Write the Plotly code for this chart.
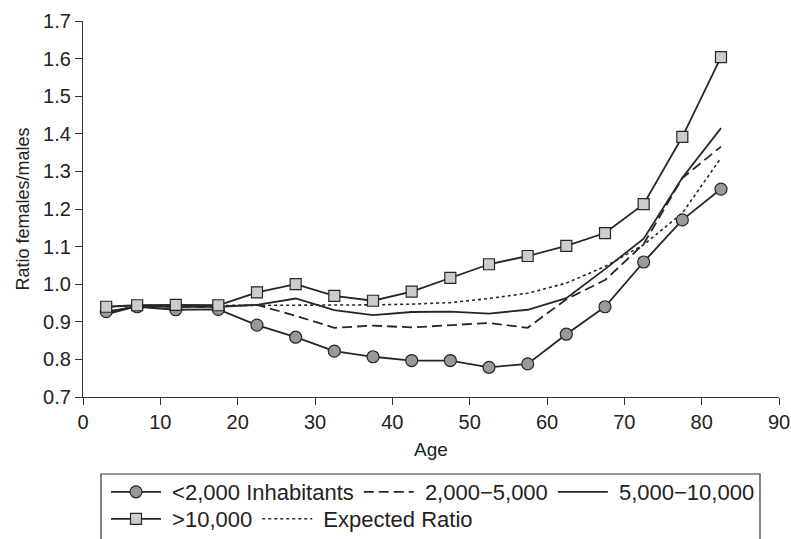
import plotly.graph_objects as go

ages = [3, 7, 12, 17.5, 22.5, 27.5, 32.5, 37.5, 42.5, 47.5, 52.5, 57.5, 62.5, 67.5, 72.5, 77.5, 82.5]

lt2000 = [0.927, 0.940, 0.932, 0.933, 0.891, 0.859, 0.822, 0.807, 0.797, 0.797, 0.779, 0.788, 0.867, 0.940, 1.059, 1.171, 1.253]
r2000_5000 = [0.925, 0.942, 0.940, 0.940, 0.945, 0.916, 0.884, 0.890, 0.885, 0.892, 0.897, 0.884, 0.960, 1.011, 1.107, 1.282, 1.366]
r5000_10000 = [0.920, 0.942, 0.940, 0.940, 0.945, 0.962, 0.931, 0.918, 0.926, 0.927, 0.922, 0.932, 0.963, 1.040, 1.121, 1.283, 1.415]
gt10000 = [0.940, 0.944, 0.945, 0.944, 0.978, 1.000, 0.969, 0.956, 0.980, 1.017, 1.053, 1.075, 1.102, 1.136, 1.213, 1.392, 1.604]
expected = [0.940, 0.943, 0.943, 0.943, 0.943, 0.943, 0.943, 0.945, 0.947, 0.951, 0.962, 0.976, 1.003, 1.047, 1.105, 1.189, 1.336]

series_names = ["<2,000 Inhabitants", "2,000\u22125,000", "5,000\u221210,000", ">10,000", "Expected Ratio"]

x_ticks = [0, 10, 20, 30, 40, 50, 60, 70, 80, 90]
y_ticks = [0.7, 0.8, 0.9, 1.0, 1.1, 1.2, 1.3, 1.4, 1.5, 1.6, 1.7]

W, H = 791, 539
ML, MR, MT, MB = 83, 12, 21, 142
PW, PH = W - ML - MR, H - MT - MB


def px_x(px):
    return (px - ML) / PW


def px_y(py):
    return (H - MB - py) / PH


LINE = "#262626"
FONT = "Liberation Sans, Arial, sans-serif"
NB = "\u00a0"

fig = go.Figure()
fig.add_trace(go.Scatter(
    x=ages, y=expected, name=NB + series_names[4], mode="lines", legend="legend2", legendrank=2,
    line=dict(color=LINE, width=1.6, dash="dot")))
fig.add_trace(go.Scatter(
    x=ages, y=r2000_5000, name=NB + series_names[1], mode="lines", legend="legend", legendrank=2,
    line=dict(color=LINE, width=1.8, dash="10px,5px")))
fig.add_trace(go.Scatter(
    x=ages, y=r5000_10000, name=NB + series_names[2], mode="lines", legend="legend", legendrank=3,
    line=dict(color=LINE, width=1.8)))
fig.add_trace(go.Scatter(
    x=ages, y=lt2000, name=NB + series_names[0], mode="lines+markers", legend="legend", legendrank=1,
    line=dict(color=LINE, width=1.8),
    marker=dict(symbol="circle", size=12, color="#999999", line=dict(color=LINE, width=1.2))))
fig.add_trace(go.Scatter(
    x=ages, y=gt10000, name=NB + series_names[3], mode="lines+markers", legend="legend2", legendrank=1,
    line=dict(color=LINE, width=1.8),
    marker=dict(symbol="square", size=11, color="#cccccc", line=dict(color=LINE, width=1.2))))

leg_common = dict(
    orientation="h", xanchor="left", yanchor="top",
    bgcolor="rgba(0,0,0,0)", borderwidth=0,
    font=dict(family=FONT, size=22, color="#222222"),
    traceorder="normal", itemwidth=50,
)

fig.update_layout(
    width=W, height=H,
    margin=dict(l=ML, r=MR, t=MT, b=MB, autoexpand=False),
    paper_bgcolor="white", plot_bgcolor="white",
    font=dict(family=FONT, size=20, color="#222222"),
    showlegend=True,
    legend=dict(x=px_x(106), y=px_y(471), **leg_common),
    legend2=dict(x=px_x(106), y=px_y(498), **leg_common),
    shapes=[dict(type="rect", xref="paper", yref="paper",
                 x0=px_x(101), x1=px_x(760), y0=px_y(474), y1=px_y(580),
                 line=dict(color="#333333", width=1.2), fillcolor="rgba(0,0,0,0)", layer="above")],
)
fig.update_xaxes(
    range=[0, 90], tickvals=x_ticks, ticktext=[str(v) for v in x_ticks],
    showline=True, linecolor="#333333", linewidth=1.3,
    ticks="outside", ticklen=7, tickcolor="#333333", tickwidth=1.3,
    showgrid=False, zeroline=False,
    title=dict(text="Age", standoff=10, font=dict(size=19)),
    tickfont=dict(size=20),
)
fig.update_yaxes(
    range=[0.7, 1.7], tickvals=y_ticks, ticktext=["%.1f" % v for v in y_ticks],
    showline=True, linecolor="#333333", linewidth=1.3,
    ticks="outside", ticklen=7, tickcolor="#333333", tickwidth=1.3,
    showgrid=False, zeroline=False,
    title=dict(text="Ratio females/males", standoff=8, font=dict(size=18)),
    tickfont=dict(size=20),
)

fig.write_html("out.html")
